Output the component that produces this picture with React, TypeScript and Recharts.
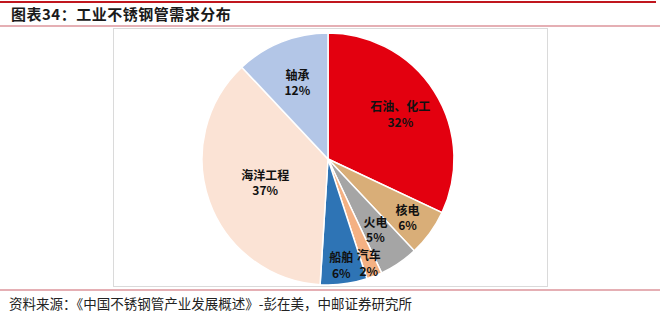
import { Cell, Pie, PieChart } from "recharts";

const categories = ["石油、化工", "核电", "火电", "汽车", "船舶", "海洋工程", "轴承"];
const shares = [32, 6, 5, 2, 6, 37, 12];
const colors = ["#E3000F", "#D9AE78", "#A5A5A5", "#F4B183", "#2E74B5", "#FBE3D5", "#B3C6E7"];
// label distance from centre, as a fraction of the radius
const labelRadius = [0.68, 0.78, 0.67, 0.88, 0.84, 0.53, 0.66];

const data = categories.map((name, i) => ({ name, value: shares[i] }));

const RAD = Math.PI / 180;
const CJK = '"Noto Sans CJK SC", "Noto Sans", sans-serif';

function SliceLabel(props: any) {
  const { cx, cy, midAngle, outerRadius, index, name, value } = props;
  const r = outerRadius * labelRadius[index];
  const x = cx + r * Math.cos(-midAngle * RAD);
  const y = cy + r * Math.sin(-midAngle * RAD);
  const style = { fill: "#111", fontSize: 12, fontWeight: 700, fontFamily: CJK };
  return (
    <g>
      <text x={x} y={y - 7.5} textAnchor="middle" dominantBaseline="central" {...style}>
        {name}
      </text>
      <text x={x} y={y + 8} textAnchor="middle" dominantBaseline="central" {...style}>
        {value}%
      </text>
    </g>
  );
}

export default function App() {
  return (
    <div style={{ position: "absolute", left: 0, top: 0, width: 660, height: 316, background: "#fff", fontFamily: CJK }}>
      <div style={{ position: "absolute", left: 0, top: 1, width: 656, height: 2, background: "#C0161E" }} />
      <div
        style={{
          position: "absolute",
          left: 11,
          top: 4,
          fontSize: 15,
          fontWeight: 700,
          color: "#1a1a1a",
          lineHeight: "20px",
          letterSpacing: 0.5,
        }}
      >
        图表34：工业不锈钢管需求分布
      </div>
      <div style={{ position: "absolute", left: 0, top: 25, width: 660, height: 2, background: "#E5AFB4" }} />
      <div
        style={{
          position: "absolute",
          left: 113,
          top: 28,
          width: 433,
          height: 257,
          border: "1px solid #DADADA",
        }}
      >
        <PieChart width={433} height={257} margin={{ top: 0, right: 0, bottom: 0, left: 0 }}>
          <Pie
            data={data}
            dataKey="value"
            nameKey="name"
            cx={214}
            cy={130}
            outerRadius={126}
            startAngle={90}
            endAngle={-270}
            stroke="#fff"
            strokeWidth={1.5}
            labelLine={false}
            label={SliceLabel}
            isAnimationActive={false}
          >
            {data.map((d, i) => (
              <Cell key={d.name} fill={colors[i]} />
            ))}
          </Pie>
        </PieChart>
      </div>
      <div style={{ position: "absolute", left: 0, top: 289, width: 660, height: 2, background: "#E5AFB4" }} />
      <div
        style={{
          position: "absolute",
          left: 9,
          top: 294,
          fontSize: 13.5,
          color: "#222",
          lineHeight: "18px",
          whiteSpace: "nowrap",
        }}
      >
        资料来源：《中国不锈钢管产业发展概述》-彭在美，中邮证券研究所
      </div>
    </div>
  );
}
